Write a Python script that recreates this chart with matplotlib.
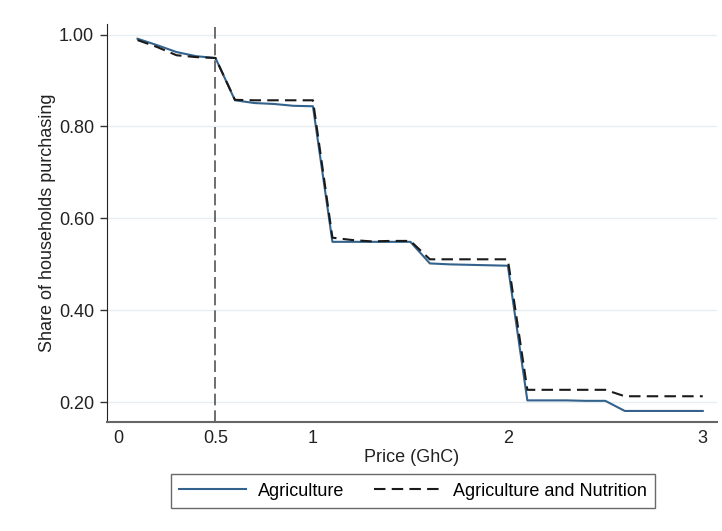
import numpy as np
import matplotlib.pyplot as plt

plt.rcParams["font.family"] = ["Liberation Sans", "DejaVu Sans"]

# Data
price = [0.1, 0.2, 0.3, 0.4, 0.5, 0.6, 0.7, 0.8, 0.9, 1.0,
         1.1, 1.2, 1.3, 1.4, 1.5, 1.6, 1.7, 1.8, 1.9, 2.0,
         2.1, 2.2, 2.3, 2.4, 2.5, 2.6, 2.7, 2.8, 2.9, 3.0]
agriculture = [0.991, 0.977, 0.962, 0.953, 0.949, 0.857, 0.851, 0.849, 0.845, 0.844,
               0.549, 0.549, 0.549, 0.549, 0.549, 0.502, 0.500, 0.499, 0.498, 0.497,
               0.204, 0.204, 0.204, 0.203, 0.203, 0.181, 0.181, 0.181, 0.181, 0.181]
agri_nutrition = [0.988, 0.973, 0.955, 0.951, 0.949, 0.858, 0.857, 0.857, 0.857, 0.857,
                  0.558, 0.553, 0.550, 0.551, 0.551, 0.511, 0.511, 0.511, 0.511, 0.511,
                  0.227, 0.227, 0.227, 0.227, 0.227, 0.213, 0.213, 0.213, 0.213, 0.213]
yticks = [0.2, 0.4, 0.6, 0.8, 1.0]
xticks = [0, 0.5, 1, 2, 3]
xticklabels = ["0", "0.5", "1", "2", "3"]

fig = plt.figure(figsize=(7.22, 5.31), dpi=100)
ax = fig.add_axes([0.1478, 0.2053, 0.845, 0.7495])

# Grid
for yv in yticks:
    ax.axhline(yv, color="#e6eef0", lw=1.0, zorder=0)

ax.axvline(0.5, color="#555555", lw=1.2, ls=(0, (7, 3)), zorder=1)

ax.plot(price, agriculture, color="#33628c", lw=1.5, label="Agriculture", zorder=2)
ax.plot(price, agri_nutrition, color="#1a1a1a", lw=1.5, ls=(0, (5.5, 3)),
        label="Agriculture and Nutrition", zorder=3)

ax.set_xlim(-0.058, 3.072)
ax.set_ylim(0.157, 1.023)

ax.set_yticks(yticks)
ax.set_yticklabels(["%.2f" % v for v in yticks])
ax.set_xticks(xticks)
ax.set_xticklabels(xticklabels)

ax.spines["top"].set_visible(False)
ax.spines["right"].set_visible(False)
ax.spines["left"].set_color("#222222")
ax.spines["bottom"].set_color("#666666")
ax.spines["bottom"].set_linewidth(1.5)

ax.tick_params(axis="y", length=5, width=1, color="#333333", labelsize=13,
               labelcolor="#222222", pad=4)
ax.tick_params(axis="x", length=0, labelsize=13, labelcolor="#222222", pad=6)

ax.set_xlabel("Price (GhC)", fontsize=13, color="#222222", labelpad=1)
ax.set_ylabel("Share of households purchasing", fontsize=13, color="#222222", labelpad=2)

leg = fig.legend(loc="center", bbox_to_anchor=(0.572, 0.0753), ncol=2, fontsize=13,
                 frameon=True, fancybox=False, handlelength=3.74, columnspacing=1.6,
                 borderpad=0.45, handletextpad=0.67)
leg.get_frame().set_edgecolor("#444444")
leg.get_frame().set_linewidth(1.0)

fig.savefig("out.png", dpi=100)
